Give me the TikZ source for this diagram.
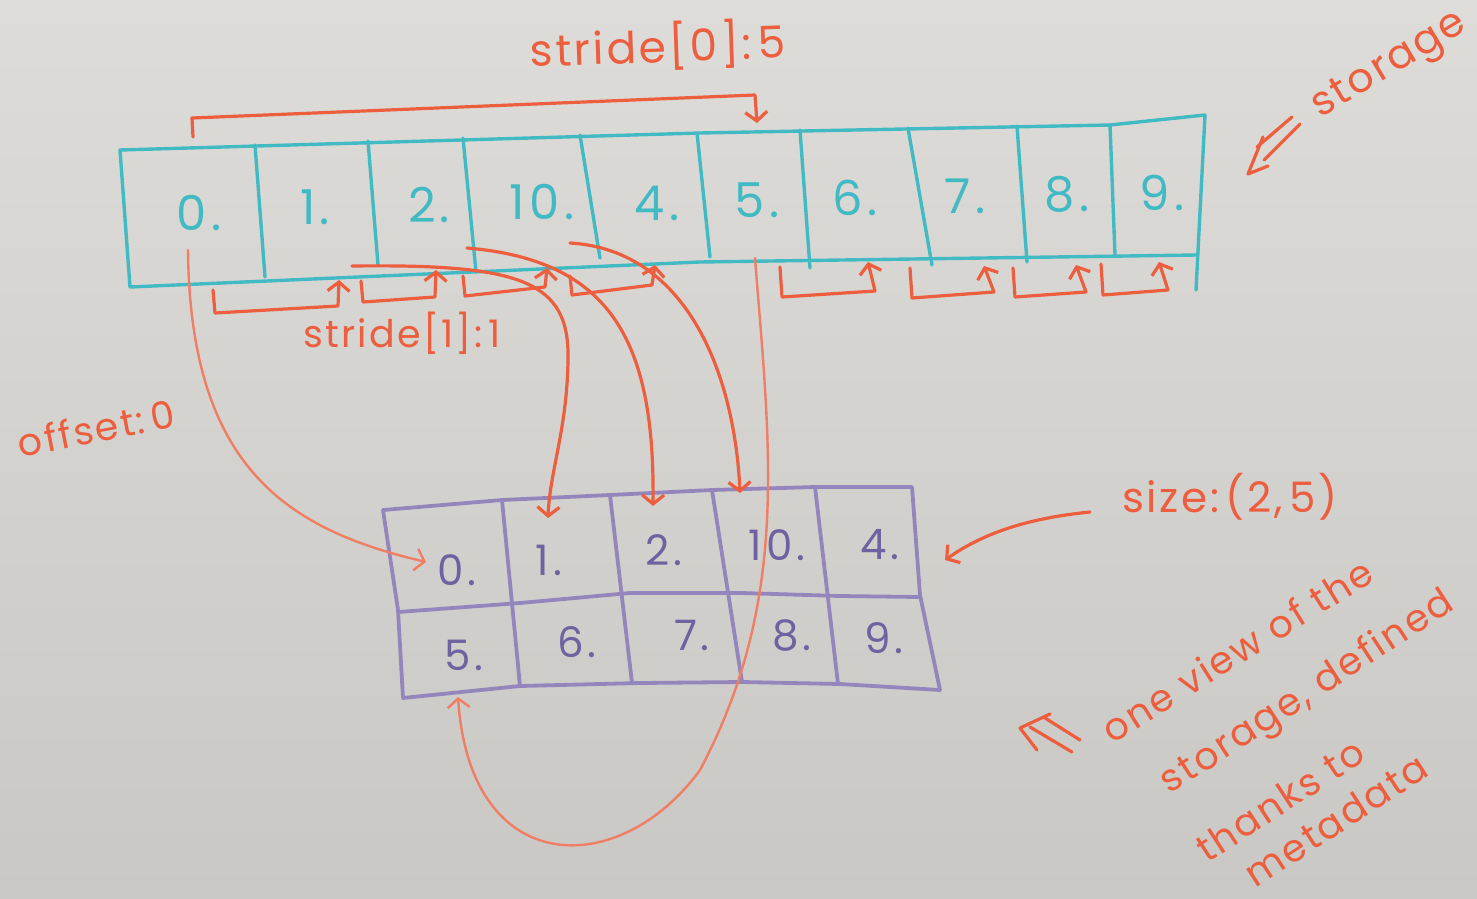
\documentclass[tikz,border=0pt]{standalone}
\usepackage{fontspec}
\setmainfont{Poppins}
\newfontfamily\handfont[LetterSpace=6]{Poppins}
\newfontfamily\digitfont[LetterSpace=9]{Poppins}
\usetikzlibrary{arrows.meta}
\definecolor{boardtop}{RGB}{222,220,217}
\definecolor{boardbot}{RGB}{202,200,197}
\definecolor{marker}{RGB}{236,94,62}
\definecolor{cyanmark}{RGB}{66,186,196}
\definecolor{lilac}{RGB}{148,134,188}
\definecolor{lilacink}{RGB}{112,98,160}
\tikzset{
  storeline/.style={draw=cyanmark, line width=3.4pt, line cap=round, line join=round},
  gridline/.style={draw=lilac, line width=3.8pt, line cap=round, line join=round},
  redline/.style={draw=marker, line width=3.2pt, line cap=round, line join=round},
  thinred/.style={draw=marker!80!white, line width=2.4pt, line cap=round, line join=round},
  barb/.style={-{Straight Barb[length=9pt,width=22pt]}},
  storenum/.style={text=cyanmark, inner sep=0pt, font=\digitfont\fontsize{48}{54}\selectfont},
  gridnum/.style={text=lilacink, inner sep=0pt, font=\digitfont\fontsize{42}{48}\selectfont},
  note/.style={text=marker, inner sep=0pt, font=\handfont\fontsize{38}{44}\selectfont},
}
\begin{document}
\begin{tikzpicture}[x=1pt,y=-1pt]
% whiteboard
\shade[top color=boardtop, bottom color=boardbot] (0,0) rectangle (1477,898);
\useasboundingbox (0,0) rectangle (1477,898);

% ---- storage strip ----
\draw[storeline] (120,150) -- (700,133) -- (1110,125) -- (1205,115) -- (1196,290);
\draw[storeline] (120,150) -- (130,287) -- (700,262) -- (1196,255);
\foreach \xa/\ya/\xb/\yb in {255/145/265/277, 368/141/378/265, 463/138/476/272,
  580/135/600/258, 697/133/710/257, 800/130/810/268, 908/128/932/265,
  1017/126/1027/262, 1110/125/1115/255}
  \draw[storeline] (\xa,\ya) -- (\xb,\yb);

\node[storenum] (s0) at (199,213) {0.};
\node[storenum] (s1) at (315,207) {1.};
\node[storenum] (s2) at (429,205) {2.};
\node[storenum] (s3) at (542,202) {10.};
\node[storenum] (s4) at (657,203) {4.};
\node[storenum] (s5) at (757,200) {5.};
\node[storenum] (s6) at (855,198) {6.};
\node[storenum] (s7) at (965,196) {7.};
\node[storenum] (s8) at (1067,194) {8.};
\node[storenum] (s9) at (1162,193) {9.};

% ---- view grid ----
\draw[gridline] (383,510) -- (502,500) -- (610,495) -- (712,490) -- (815,487) -- (912,487)
  -- (920,595) -- (940,690);
\draw[gridline] (383,510) -- (398,610) -- (403,698) -- (520,686) -- (640,683) -- (742,682)
  -- (840,684) -- (940,690);
\draw[gridline] (398,612) -- (520,603) -- (630,593) -- (742,593) -- (840,596) -- (920,597);
\draw[gridline] (502,500) -- (520,686);
\draw[gridline] (610,495) -- (632,683);
\draw[gridline] (712,490) -- (742,682);
\draw[gridline] (815,487) -- (838,684);

\node[gridnum] (g0) at (457,570) {0.};
\node[gridnum] (g1) at (549,560) {1.};
\node[gridnum] (g2) at (664,550) {2.};
\node[gridnum] (g3) at (777,545) {10.};
\node[gridnum] (g4) at (880,545) {4.};
\node[gridnum] (g5) at (464,655) {5.};
\node[gridnum] (g6) at (577,642) {6.};
\node[gridnum] (g7) at (692,635) {7.};
\node[gridnum] (g8) at (792,635) {8.};
\node[gridnum] (g9) at (884,638) {9.};

% ---- stride[0] jump over the top ----
\coordinate (r0) at (193,137);
\coordinate (r5) at (757,123);
\draw[redline, barb] (r0) -- (192,118) -- (755,95) -- (r5);
\node[note, rotate=2, font=\handfont\fontsize{44}{50}\selectfont] (stride0) at (658,46) {stride[0]:\,5};

% ---- stride[1] steps under the strip ----
\foreach \xa/\ya/\yb/\xc/\yc/\xt/\yt in {
   213/290/313/338/306/339/280,
   361/281/302/435/297/436/270,
   463/276/296/545/287/547/268,
   570/276/295/652/285/655/265,
   780/267/297/875/291/868/262,
   910/268/298/994/292/984/266,
   1013/268/297/1086/292/1076/265,
   1101/264/295/1168/290/1159/262}
  \draw[redline, barb] (\xa,\ya) -- (\xa+2,\yb) -- (\xc,\yc) -- (\xt,\yt);
\node[note] (stride1) at (402,333) {stride[1]:\,1};

% ---- element links from storage to view ----
\coordinate (a0) at (188,250);
\coordinate (a1) at (352,266);
\coordinate (a2) at (467,248);
\coordinate (a3) at (570,243);
\coordinate (a5) at (755,258);
\coordinate (t0) at (426,562);
\coordinate (t1) at (548,518);
\coordinate (t2) at (653,506);
\coordinate (t3) at (740,493);
\coordinate (t5) at (458,697);
\draw[thinred, barb] (a0) .. controls (190,470) and (290,530) .. (t0);
\draw[redline, barb] (a1) .. controls (520,264) and (570,280) .. (568,360)
  .. controls (567,430) and (550,470) .. (t1);
\draw[redline, barb] (a2) .. controls (610,260) and (655,340) .. (t2);
\draw[redline, barb] (a3) .. controls (690,250) and (735,380) .. (t3);
\draw[thinred, barb] (a5) .. controls (770,450) and (790,600) .. (700,770)
  .. controls (620,880) and (470,880) .. (t5);

% ---- labels ----
\node[note, rotate=11] (offset) at (96,428) {offset:\,0};

\coordinate (sz) at (1090,512);
\coordinate (szt) at (945,560);
\draw[redline, barb] (sz) .. controls (1030,518) and (985,532) .. (szt);
\node[note, font=\handfont\fontsize{42}{48}\selectfont] (size) at (1230,497) {size:\,(2,\,5)};

\node[note, rotate=31, font=\handfont\fontsize{41}{46}\selectfont] (storage) at (1390,67) {storage};
\draw[redline] (1257,147) -- (1292,117);
\draw[redline] (1264,160) -- (1300,124);
\draw[redline] (1263,137) -- (1248,174) -- (1268,166);

\draw[redline] (1030,727) -- (1072,752);
\draw[redline] (1045,718) -- (1080,740);
\draw[redline] (1050,714) -- (1020,728) -- (1037,750);
\node[note, rotate=32] (view1) at (1237,650) {one view of the};
\node[note, rotate=33] (view2) at (1308,694) {storage, defined};
\node[note, rotate=33] (view3) at (1280,800) {thanks to};
\node[note, rotate=33] (view4) at (1336,820) {metadata};
\end{tikzpicture}
\end{document}
